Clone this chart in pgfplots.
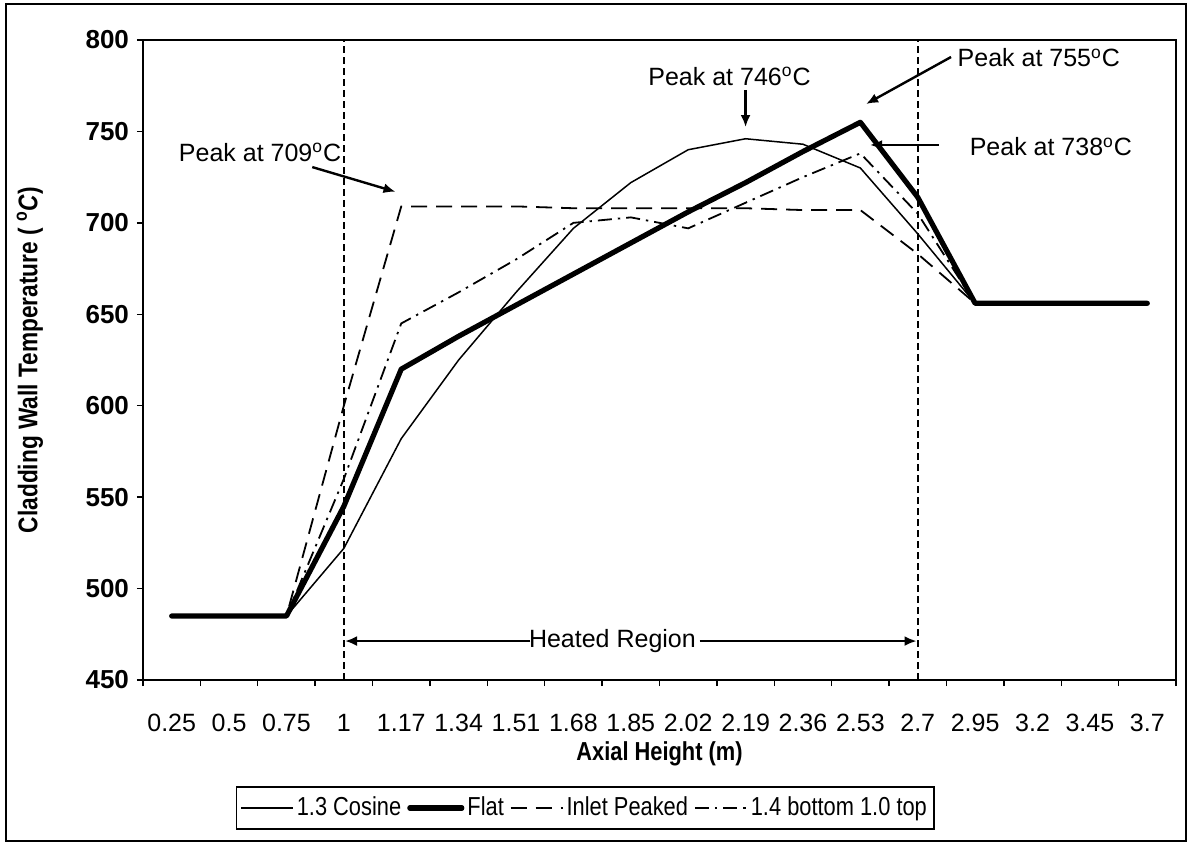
\documentclass[border=0pt]{standalone}
\usepackage{fontspec}
\setmainfont{Liberation Sans}
\newfontfamily\narrowfont[FakeStretch=0.84]{Liberation Sans}
\usepackage{pgfplots}
\pgfplotsset{compat=1.18}
\usetikzlibrary{arrows.meta}

\pgfplotstableread{
i cos flat inlet dd
0 485 485 485 485
1 485 485 485 485
2 485 485 485 485
3 522 545 600 560
4 582 620 709 645
5 625 638 709 662
6 662 655 709 680
7 697 672 708 700
8 722 689 708 703
9 740 706 708 697
10 746 722 708 711
11 743 739 707 725
12 730 755 707 738
13 694 714 683 705
14 656 656 656 656
15 656 656 656 656
16 656 656 656 656
17 656 656 656 656
}\data

\begin{document}
\begin{tikzpicture}
\useasboundingbox (0pt,0pt) rectangle (595pt,-422.5pt);
\draw[line width=0.9pt] (3pt,-2pt) rectangle (593pt,-420.5pt);
\begin{axis}[
  at={(71.5pt,-340pt)}, anchor=south west,
  scale only axis, width=516.5pt, height=320pt,
  xmin=-0.5, xmax=17.5, ymin=450, ymax=800,
  ytick={450,500,...,800},
  xtick={0,...,17},
  xticklabels={0.25,0.5,0.75,1,1.17,1.34,1.51,1.68,1.85,2.02,2.19,2.36,2.53,2.7,2.95,3.2,3.45,3.7},
  minor xtick={-0.5,0.5,...,17.5},
  major x tick style={draw=none},
  tick align=outside, xtick pos=bottom, ytick pos=left,
  major tick length=3pt, minor tick length=3pt,
  tick style={black, line width=0.7pt},
  axis line style={line width=1pt},
  /pgf/number format/assume math mode=true,
  yticklabel style={font=\bfseries\fontsize{13}{15}\selectfont, anchor=east, xshift=-0.5pt},
  xticklabel style={font=\fontsize{12.5}{15}\selectfont, anchor=center, text height=9pt, text depth=0pt, yshift=-18pt},
  xlabel={Axial Height (m)},
  ylabel={Cladding Wall Temperature ( \textsuperscript{o}\textit{C})},
  xlabel style={font=\narrowfont\bfseries\fontsize{13}{15}\selectfont, at={(axis description cs:0.5,-0.115)}, anchor=center},
  ylabel style={font=\narrowfont\bfseries\fontsize{13.5}{15}\selectfont, at={(axis description cs:-0.1094,0.5)}, anchor=center},
  legend columns=4,
  legend style={at={(axis description cs:0.428,-0.2)}, anchor=center, draw=black, line width=0.8pt,
     font=\narrowfont\fontsize{13}{15}\selectfont, inner xsep=2pt, inner ysep=3pt,
     nodes={inner xsep=1.5pt, inner ysep=2pt},
     /tikz/every even column/.append style={column sep=1.5pt}},
  legend image code/.code={\draw[#1] (0pt,0pt) -- (26pt,0pt);},
  clip=false,
]
\addplot[black, line width=0.75pt] table[x=i,y=cos]{\data};
\addlegendentry{1.3 Cosine}
\addplot[black, line width=2.6pt, line cap=round, line join=round] table[x=i,y=flat]{\data};
\addlegendentry{Flat}
\addplot[black, line width=0.9pt, dash pattern=on 8pt off 4.5pt] table[x=i,y=inlet]{\data};
\addlegendentry{Inlet Peaked}
\addplot[black, line width=0.9pt, dash pattern=on 7pt off 3pt on 1.2pt off 3pt] table[x=i,y=dd]{\data};
\addlegendentry{1.4 bottom 1.0 top}

\draw[black, line width=1pt, dash pattern=on 3.5pt off 2pt] (axis cs:3,450) -- (axis cs:3,800);
\draw[black, line width=1pt, dash pattern=on 3.5pt off 2pt] (axis cs:13,450) -- (axis cs:13,800);

\begin{scope}[every node/.style={font=\fontsize{12.5}{15}\selectfont, inner sep=0pt}]
\node at (axis cs:1.54,738.4) {Peak at 709\textsuperscript{o}C};
\draw[-{Latex[length=6pt,width=5pt]}, line width=1.2pt] (axis cs:2.45,730.5) -- (axis cs:3.9,717);
\node at (axis cs:9.72,779.9) {Peak at 746\textsuperscript{o}C};
\draw[-{Latex[length=6pt,width=5pt]}, line width=1.2pt] (axis cs:10,772.7) -- (axis cs:10,752.4);
\node at (axis cs:15.11,790.2) {Peak at 755\textsuperscript{o}C};
\draw[-{Latex[length=6pt,width=5pt]}, line width=1.2pt] (axis cs:13.58,790.7) -- (axis cs:12.1,765);
\node at (axis cs:15.32,741.6) {Peak at 738\textsuperscript{o}C};
\draw[-{Latex[length=6pt,width=5pt]}, line width=1.2pt] (axis cs:13.37,742.6) -- (axis cs:12.17,742.6);
\node at (axis cs:7.68,471.3) {Heated Region};
\draw[-{Latex[length=6pt,width=5pt]}, line width=1.2pt] (axis cs:6.25,471.3) -- (axis cs:3.02,471.3);
\draw[-{Latex[length=6pt,width=5pt]}, line width=1.2pt] (axis cs:9.2,471.3) -- (axis cs:12.98,471.3);
\end{scope}
\end{axis}
\end{tikzpicture}
\end{document}
